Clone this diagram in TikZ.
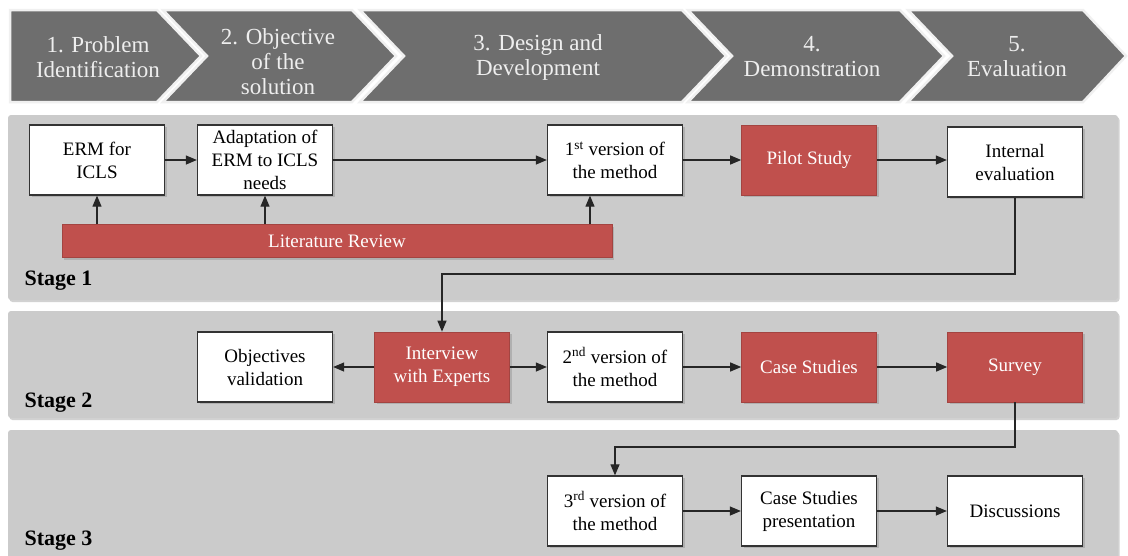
\documentclass[tikz,border=0pt]{standalone}
\usepackage{fontspec}
\setmainfont{Liberation Serif}
\usetikzlibrary{arrows.meta,shadows}
\definecolor{chev}{HTML}{6E6E6E}
\definecolor{panel}{HTML}{CBCBCB}
\definecolor{redbox}{HTML}{C0504D}
\definecolor{chevtext}{HTML}{EEEEEE}
\begin{document}
\begin{tikzpicture}[x=1pt,y=-1pt,
  chevron/.style={fill=chev, draw=white!94!black, line width=2.5pt, line join=miter},
  head/.style={text=chevtext, align=center, font=\fontsize{23}{25}\selectfont},
  panelbox/.style={fill=panel, draw=none, rounded corners=3pt, drop shadow={shadow xshift=1.5pt, shadow yshift=-2pt, opacity=0.35}},
  wbox/.style={draw=black!80, line width=1.3pt, fill=white, minimum width=135pt, minimum height=70pt, align=center, font=\fontsize{19}{23}\selectfont, inner sep=2pt, drop shadow={shadow xshift=2pt, shadow yshift=-2pt, opacity=0.35}},
  rbox/.style={wbox, fill=redbox, draw=redbox!85!black, line width=0.6pt, text=white},
  arr/.style={-{Triangle[length=11pt,width=9pt]}, line width=1.2pt, draw=black!85},
  stagelbl/.style={font=\bfseries\fontsize{22}{24}\selectfont, anchor=base west}
]
\useasboundingbox (0,0) rectangle (1128,555);
\fill[white] (0,0) rectangle (1128,555);

% header chevrons
\begin{scope}[drop shadow={shadow xshift=1pt, shadow yshift=-2pt, opacity=0.25}]
\end{scope}
\path[chevron] (10,10) -- (157,10) -- (201,56) -- (157,102) -- (10,102) -- cycle;
\path[chevron] (163,10) -- (352,10) -- (396,56) -- (352,102) -- (163,102) -- (207,56) -- cycle;
\path[chevron] (360,10) -- (682,10) -- (726,56) -- (682,102) -- (360,102) -- (404,56) -- cycle;
\path[chevron] (688,10) -- (900,10) -- (944,56) -- (900,102) -- (688,102) -- (732,56) -- cycle;
\path[chevron] (908,10) -- (1083,10) -- (1126,56) -- (1083,102) -- (908,102) -- (952,56) -- cycle;
\node[head] (h1) at (98,57) {1. Problem\\Identification};
\node[head] (h2) at (278,62) {2. Objective\\of the\\solution};
\node[head] (h3) at (538,57) {3. Design and\\Development};
\node[head] (h4) at (812,57) {4.\\Demonstration};
\node[head] (h5) at (1017,57) {5.\\Evaluation};

% stage panels
\path[panelbox] (8,115) rectangle (1118,300);
\path[panelbox] (8,311) rectangle (1118,418);
\path[panelbox] (8,430) rectangle (1118,562);
\node[stagelbl] (s1) at (21,285) {Stage 1};
\node[stagelbl] (s2) at (21,407) {Stage 2};
\node[stagelbl] (s3) at (21,545) {Stage 3};

% stage 1
\node[wbox] (erm) at (97,160) {ERM for\\ICLS};
\node[wbox] (ad) at (265,160) {Adaptation of\\ERM to ICLS\\needs};
\node[wbox] (v1) at (615,160) {1\textsuperscript{st} version of\\the method};
\node[rbox] (ps) at (809,160) {Pilot Study};
\node[wbox] (ie) at (1015,162) {Internal\\evaluation};
\node[rbox, minimum width=550pt, minimum height=33pt] (lr) at (337,241) {Literature Review};

% stage 2
\node[wbox] (ov) at (265,367) {Objectives\\validation};
\node[rbox] (iw) at (442,367) {Interview\\with Experts};
\node[wbox] (v2) at (615,367) {2\textsuperscript{nd} version of\\the method};
\node[rbox] (cs) at (809,367) {Case Studies};
\node[rbox] (sv) at (1015,367) {Survey};

% stage 3
\node[wbox] (v3) at (615,511) {3\textsuperscript{rd} version of\\the method};
\node[wbox] (csp) at (809,511) {Case Studies\\presentation};
\node[wbox] (dis) at (1015,511) {Discussions};

% connectors stage 1
\draw[arr] (erm) -- (ad);
\draw[arr] (ad) -- (v1);
\draw[arr] (v1) -- (ps);
\draw[arr] (ps.east) -- (ie.west |- ps.east);
\draw[arr] (lr.north -| erm.south) -- (erm.south);
\draw[arr] (lr.north -| ad.south) -- (ad.south);
\coordinate (v1a) at ([xshift=-25pt]v1.south);
\draw[arr] (lr.north -| v1a) -- (v1a);
\coordinate (j1) at (442,274);
\draw[arr] (ie.south) |- (j1) -- (iw.north);

% connectors stage 2
\draw[arr] (iw) -- (ov);
\draw[arr] (iw) -- (v2);
\draw[arr] (v2) -- (cs);
\draw[arr] (cs) -- (sv);
\coordinate (j2) at (615,447);
\draw[arr] (sv.south) |- (j2) -- (v3.north);

% connectors stage 3
\draw[arr] (v3) -- (csp);
\draw[arr] (csp) -- (dis);
\end{tikzpicture}
\end{document}
